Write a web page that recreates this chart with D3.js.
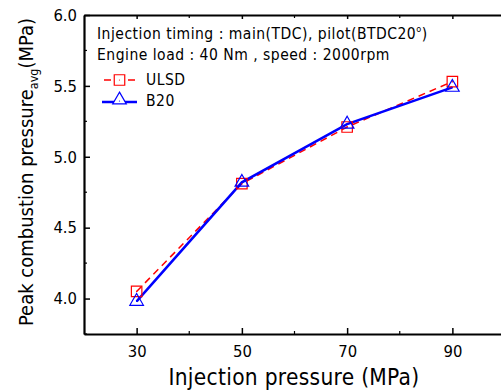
<!DOCTYPE html>
<html>
<head>
<meta charset="utf-8">
<script src="https://cdn.jsdelivr.net/npm/d3@7"></script>
<style>
  body { margin: 0; background: #fff; }
  svg { display: block; font-family: "DejaVu Sans Condensed", "DejaVu Sans", sans-serif; }
</style>
</head>
<body>
<div id="chart"></div>
<script>
var pressures = [30, 50, 70, 90];
var ulsd = [4.05, 4.81, 5.21, 5.53];
var b20 = [3.98, 4.82, 5.23, 5.49];
var xTicks = [30, 50, 70, 90];
var yTicks = [4.0, 4.5, 5.0, 5.5, 6.0];

var width = 501, height = 392;
var margin = { top: 15, left: 84, bottom: 58 };

var x = d3.scaleLinear().domain([20, 100]).range([margin.left, 505]);
var y = d3.scaleLinear().domain([3.75, 6.0]).range([height - margin.bottom, margin.top]);

var svg = d3.select("#chart").append("svg")
    .attr("width", width)
    .attr("height", height);

// minor ticks
var xMinor = [40, 60, 80];
var yMinor = [3.75, 4.25, 4.75, 5.25, 5.75];

var gBottom = svg.append("g")
    .attr("transform", "translate(0," + y.range()[0] + ")")
    .call(d3.axisBottom(x).tickValues(xTicks).tickSize(-6).tickSizeOuter(0).tickPadding(11).tickFormat(d3.format("d")));
gBottom.append("g").selectAll("line").data(xMinor).enter().append("line")
    .attr("x1", d => x(d)).attr("x2", d => x(d)).attr("y1", 0).attr("y2", -3)
    .attr("stroke", "#000").attr("stroke-width", 1.2);

var gTop = svg.append("g")
    .attr("transform", "translate(0," + y.range()[1] + ")")
    .call(d3.axisTop(x).tickValues(xTicks).tickSize(-4).tickSizeOuter(0).tickFormat(""));
gTop.append("g").selectAll("line").data(xMinor).enter().append("line")
    .attr("x1", d => x(d)).attr("x2", d => x(d)).attr("y1", 0).attr("y2", 3)
    .attr("stroke", "#000").attr("stroke-width", 1.2);

var gLeft = svg.append("g")
    .attr("transform", "translate(" + x.range()[0] + ",0)")
    .call(d3.axisLeft(y).tickValues(yTicks).tickSize(-6).tickSizeOuter(0).tickPadding(7).tickFormat(d3.format(".1f")));
gLeft.append("g").selectAll("line").data(yMinor).enter().append("line")
    .attr("x1", 0).attr("x2", 3).attr("y1", d => y(d)).attr("y2", d => y(d))
    .attr("stroke", "#000").attr("stroke-width", 1.2);

[gBottom, gTop, gLeft].forEach(function(g) {
    g.select(".domain").attr("stroke-width", 2.2);
    g.selectAll(".tick line").attr("stroke-width", 1.5);
    g.selectAll(".tick text").style("font-size", "16.5px").attr("fill", "#000")
        .style("font-family", "'DejaVu Sans Condensed', 'DejaVu Sans', sans-serif");
});

// series
var line = d3.line().x((d, i) => x(pressures[i])).y(d => y(d));

svg.append("path").datum(ulsd)
    .attr("d", line)
    .attr("fill", "none")
    .attr("stroke", "#ff0000")
    .attr("stroke-width", 1.5)
    .attr("stroke-dasharray", "7,5");

svg.append("path").datum(b20)
    .attr("d", line)
    .attr("fill", "none")
    .attr("stroke", "#0000ff")
    .attr("stroke-width", 2.5);

var sq = d3.symbol().type(d3.symbolSquare).size(110);
var tri = d3.symbol().type(d3.symbolTriangle).size(80);

function markers(data, sym, color) {
    var g = svg.append("g").selectAll("g").data(data).enter().append("g")
        .attr("transform", (d, i) => "translate(" + x(pressures[i]) + "," + y(d) + ")");
    g.append("path").attr("d", sym).attr("fill", "none").attr("stroke", color).attr("stroke-width", 1.2);
    g.append("circle").attr("r", 0.6).attr("fill", color);
}
markers(ulsd, sq, "#ff0000");
markers(b20, tri, "#0000ff");

// annotation
var ann = svg.append("text").attr("x", 97).attr("y", 39)
    .style("font-size", "15.5px").style("letter-spacing", "0.5px");
ann.append("tspan").text("Injection timing : main(TDC), pilot(BTDC20");
ann.append("tspan").attr("dy", -7).style("font-size", "9px").text("o");
ann.append("tspan").attr("dy", 7).text(")");
svg.append("text").attr("x", 97).attr("y", 60)
    .style("font-size", "15.5px").style("letter-spacing", "0.5px")
    .text("Engine load : 40 Nm , speed : 2000rpm");

// legend
var legend = svg.append("g");
legend.append("line").attr("x1", 102).attr("x2", 137).attr("y1", 80).attr("y2", 80)
    .attr("stroke", "#ff0000").attr("stroke-width", 1.5).attr("stroke-dasharray", "7,5").attr("stroke-dashoffset", -2);
legend.append("path").attr("d", sq).attr("transform", "translate(119.5,80)")
    .attr("fill", "#fff").attr("stroke", "#ff0000").attr("stroke-width", 1.2);
legend.append("circle").attr("cx", 119.5).attr("cy", 80).attr("r", 0.6).attr("fill", "#ff0000");
legend.append("text").attr("x", 146).attr("y", 85)
    .style("font-size", "15.5px").style("letter-spacing", "0.5px").text("ULSD");

legend.append("line").attr("x1", 102).attr("x2", 137).attr("y1", 102).attr("y2", 102)
    .attr("stroke", "#0000ff").attr("stroke-width", 2.5);
legend.append("path").attr("d", tri).attr("transform", "translate(119.5,100)")
    .attr("fill", "#fff").attr("stroke", "#0000ff").attr("stroke-width", 1.2);
legend.append("circle").attr("cx", 119.5).attr("cy", 101).attr("r", 0.6).attr("fill", "#0000ff");
legend.append("text").attr("x", 146).attr("y", 106)
    .style("font-size", "15.5px").style("letter-spacing", "0.5px").text("B20");

// axis titles
svg.append("text")
    .attr("x", 294).attr("y", 385)
    .attr("text-anchor", "middle")
    .style("font-size", "22.5px").style("letter-spacing", "0.3px")
    .text("Injection pressure (MPa)");

var yt = svg.append("text")
    .attr("transform", "translate(33,172) rotate(-90)")
    .attr("text-anchor", "middle")
    .style("font-size", "20px");
yt.append("tspan").text("Peak combustion pressure");
yt.append("tspan").attr("dy", 5).style("font-size", "12.5px").text("avg");
yt.append("tspan").attr("dy", -5).text("(MPa)");
</script>
</body>
</html>
